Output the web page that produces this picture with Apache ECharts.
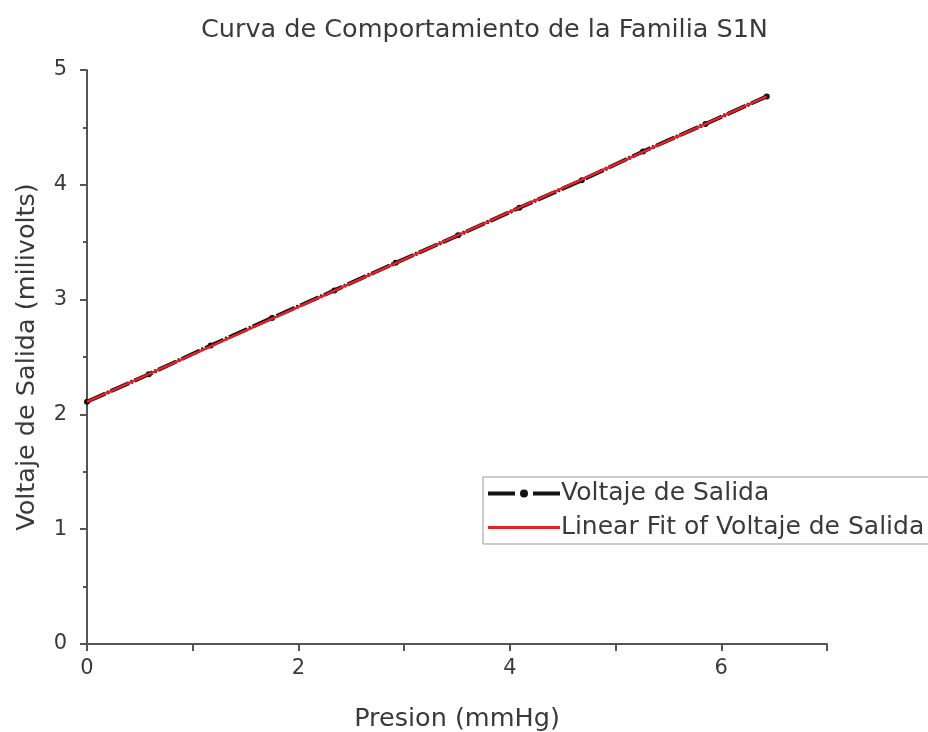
<!DOCTYPE html>
<html>
<head>
<meta charset="utf-8">
<script src="https://cdn.jsdelivr.net/npm/echarts@6/dist/echarts.min.js"></script>
<style>
html,body{margin:0;padding:0;background:#fff;}
#chart{width:928px;height:732px;}
</style>
</head>
<body>
<div id="chart"></div>
<script>
// Data
const presion = [0, 0.585, 1.17, 1.75, 2.34, 2.92, 3.51, 4.09, 4.68, 5.26, 5.85, 6.43];
const voltaje = [2.11, 2.35, 2.60, 2.84, 3.08, 3.32, 3.56, 3.80, 4.04, 4.29, 4.53, 4.77];
const fitX = [0, 6.43];
const fitY = [2.11, 4.77];
const xTicks = [0, 2, 4, 6];
const yTicks = [0, 1, 2, 3, 4, 5];
const titleText = 'Curva de Comportamiento de la Familia S1N';
const xName = 'Presion (mmHg)';
const yName = 'Voltaje de Salida (milivolts)';
const seriesNames = ['Voltaje de Salida', 'Linear Fit of Voltaje de Salida'];

const font = 'DejaVu Sans';
const textColor = '#3a3a3a';
const axisColor = '#555';

const chart = echarts.init(document.getElementById('chart'), null, {renderer: 'canvas'});
chart.setOption({
  backgroundColor: '#fff',
  animation: false,
  title: {
    text: titleText,
    left: 196, top: 12,
    textStyle: {fontFamily: font, fontSize: 25.5, fontWeight: 'normal', color: textColor}
  },
  legend: {
    left: 483, top: 477,
    orient: 'vertical',
    backgroundColor: '#fff',
    borderColor: '#999', borderWidth: 1, borderRadius: 0,
    padding: [4, 8, 4, 3],
    itemGap: 9,
    itemWidth: 72, itemHeight: 10,
    textStyle: {fontFamily: font, fontSize: 25, color: textColor, padding: [0,0,0,-4]},
    data: [
      {name: seriesNames[0], lineStyle: {width: 4, type: [27, 18], color: '#111'}},
      {name: seriesNames[1], lineStyle: {width: 3, color: '#e8202a'},
       itemStyle: {color: 'rgba(0,0,0,0)', borderWidth: 0}}
    ]
  },
  grid: {left: 87, right: 101, top: 70, bottom: 88, outerBoundsMode: 'none', containLabel: false},
  xAxis: {
    type: 'value', min: 0, max: 7, interval: 1,
    name: xName, nameLocation: 'middle', nameGap: 62,
    nameTextStyle: {fontFamily: font, fontSize: 25.5, color: textColor},
    axisLine: {show: true, onZero: false, lineStyle: {color: axisColor, width: 2}},
    axisTick: {show: true, length: 7, lineStyle: {color: axisColor, width: 2}},
    axisLabel: {
      fontFamily: font, fontSize: 21, color: textColor, margin: 14,
      formatter: v => (xTicks.indexOf(v) >= 0 ? String(v) : '')
    },
    splitLine: {show: false}
  },
  yAxis: {
    type: 'value', min: 0, max: 5, interval: 1,
    name: yName, nameLocation: 'middle', nameGap: 47, nameRotate: 90,
    nameTextStyle: {fontFamily: font, fontSize: 25.5, color: textColor},
    axisLine: {show: true, onZero: false, lineStyle: {color: axisColor, width: 2}},
    axisTick: {show: true, length: 7, lineStyle: {color: axisColor, width: 2}},
    minorTick: {show: true, splitNumber: 2, length: 4, lineStyle: {color: axisColor, width: 2}},
    axisLabel: {
      fontFamily: font, fontSize: 21, color: textColor, margin: 20,
      formatter: v => (yTicks.indexOf(v) >= 0 ? String(v) : '')
    },
    splitLine: {show: false}
  },
  series: [
    {
      name: seriesNames[0],
      type: 'line',
      data: presion.map((x, i) => [x, voltaje[i]]),
      symbol: 'circle', symbolSize: 6,
      showSymbol: true,
      itemStyle: {color: '#111'},
      lineStyle: {color: '#111', width: 4, type: [20, 2, 2, 2]},
      z: 2
    },
    {
      name: seriesNames[1],
      type: 'line',
      data: fitX.map((x, i) => [x, fitY[i]]),
      symbol: 'none',
      itemStyle: {color: '#e8202a'},
      lineStyle: {color: '#e8202a', width: 2.5},
      z: 3
    }
  ]
});
</script>
</body>
</html>
